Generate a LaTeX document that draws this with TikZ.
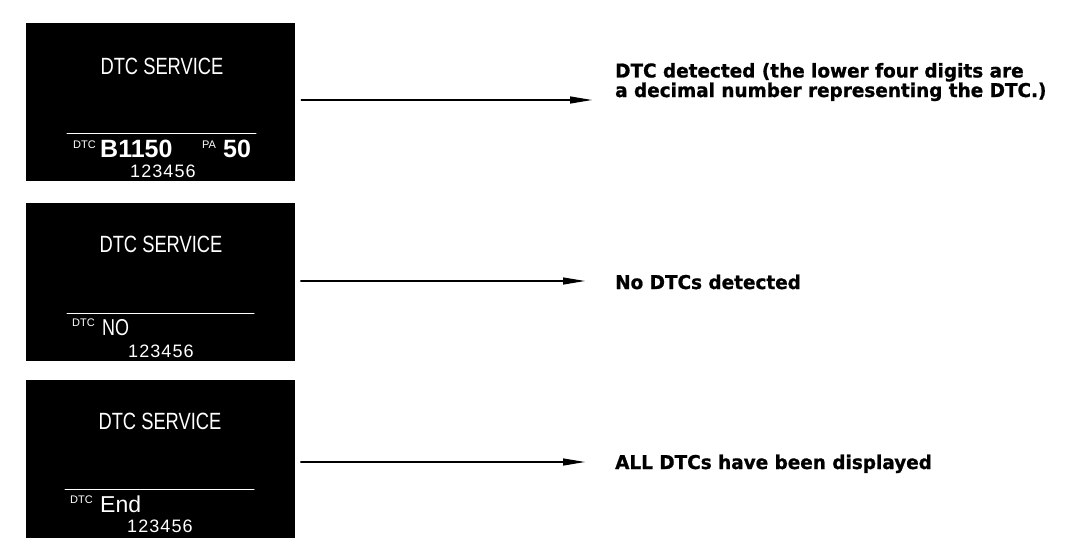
\documentclass[tikz,border=0pt]{standalone}
\usepackage{fontspec}
\usepackage{tikz}
\usetikzlibrary{positioning,arrows.meta}
\newfontfamily\labfont[FakeStretch=0.97, BoldFeatures={FakeBold=1}]{DejaVu Sans}
\newfontfamily\scrfont[FakeStretch=0.78]{Liberation Sans}
\newfontfamily\scrwide{Liberation Sans}
\newfontfamily\scrspaced[LetterSpace=6]{Liberation Sans}

\begin{document}
\begin{tikzpicture}[x=1pt,y=-1pt, line cap=round, line join=round,
  screen/.style={fill=black, minimum width=269pt, minimum height=158pt, inner sep=0pt},
  scrtitle/.style={text=white, inner sep=0pt, anchor=base, font=\scrfont\fontsize{23.5}{24}\selectfont},
  scrsmall/.style={text=white, inner sep=0pt, anchor=base west, font=\scrwide\fontsize{11}{11}\selectfont},
  scrcode/.style={text=white, inner sep=0pt, anchor=base west, font=\scrwide\bfseries\fontsize{25}{25}\selectfont},
  scrword/.style={text=white, inner sep=0pt, anchor=base west, font=\scrfont\fontsize{23}{23}\selectfont},
  scrend/.style={text=white, inner sep=0pt, anchor=base west, font=\scrwide\fontsize{23}{23}\selectfont},
  scrnum/.style={text=white, inner sep=0pt, anchor=base west, font=\scrspaced\fontsize{18}{18}\selectfont},
  lab/.style={inner sep=0pt, anchor=base west, align=left, font=\labfont\bfseries\fontsize{19}{16}\selectfont},
  arr/.style={line width=1.2pt, -{Triangle[length=22pt, width=7pt]}}]
\useasboundingbox (0,0) rectangle (1072,552);

% screens
\node[screen] (scr1) at (160.5,102) {};
\node[screen] (scr2) at (160,281.5) {};
\node[screen] (scr3) at (160,458.5) {};

% screen 1
\node[scrtitle] (tit1) at (162,74) {DTC SERVICE};
\draw[white, line width=1pt] (67,133) -- (256,133);
\node[scrsmall] (dtc1) at (73,148) {DTC};
\node[scrcode] (code1) at (100,157) {B1150};
\node[scrsmall] (pa1) at (202,148) {PA};
\node[scrcode] (pav1) at (223,157) {50};
\node[scrnum] (num1) at (130,177) {123456};

% screen 2
\node[scrtitle] (tit2) at (161,252) {DTC SERVICE};
\draw[white, line width=1pt] (67,313) -- (254,313);
\node[scrsmall] (dtc2) at (72,326) {DTC};
\node[scrword] (code2) at (102,335) {NO};
\node[scrnum] (num2) at (128,357) {123456};

% screen 3
\node[scrtitle] (tit3) at (160,429) {DTC SERVICE};
\draw[white, line width=1pt] (65,489) -- (254,489);
\node[scrsmall] (dtc3) at (70,503) {DTC};
\node[scrend] (code3) at (100,512) {End};
\node[scrnum] (num3) at (127,532) {123456};

% labels
\node[lab] (lab1) at (615,97) {DTC detected (the lower four digits are\\a decimal number representing the DTC.)};
\node[lab] (lab2) at (615,289) {No DTCs detected};
\node[lab] (lab3) at (615,469) {ALL DTCs have been displayed};

% arrows
\draw[arr, shorten <=6pt, shorten >=23pt] (scr1.east |- 0,100) -- (lab1.west |- 0,100);
\foreach \i/\y in {2/281,3/462} {
  \draw[arr, shorten <=6pt, shorten >=30pt] (scr\i.east |- 0,\y) -- (lab\i.west |- 0,\y);
}
\end{tikzpicture}
\end{document}
